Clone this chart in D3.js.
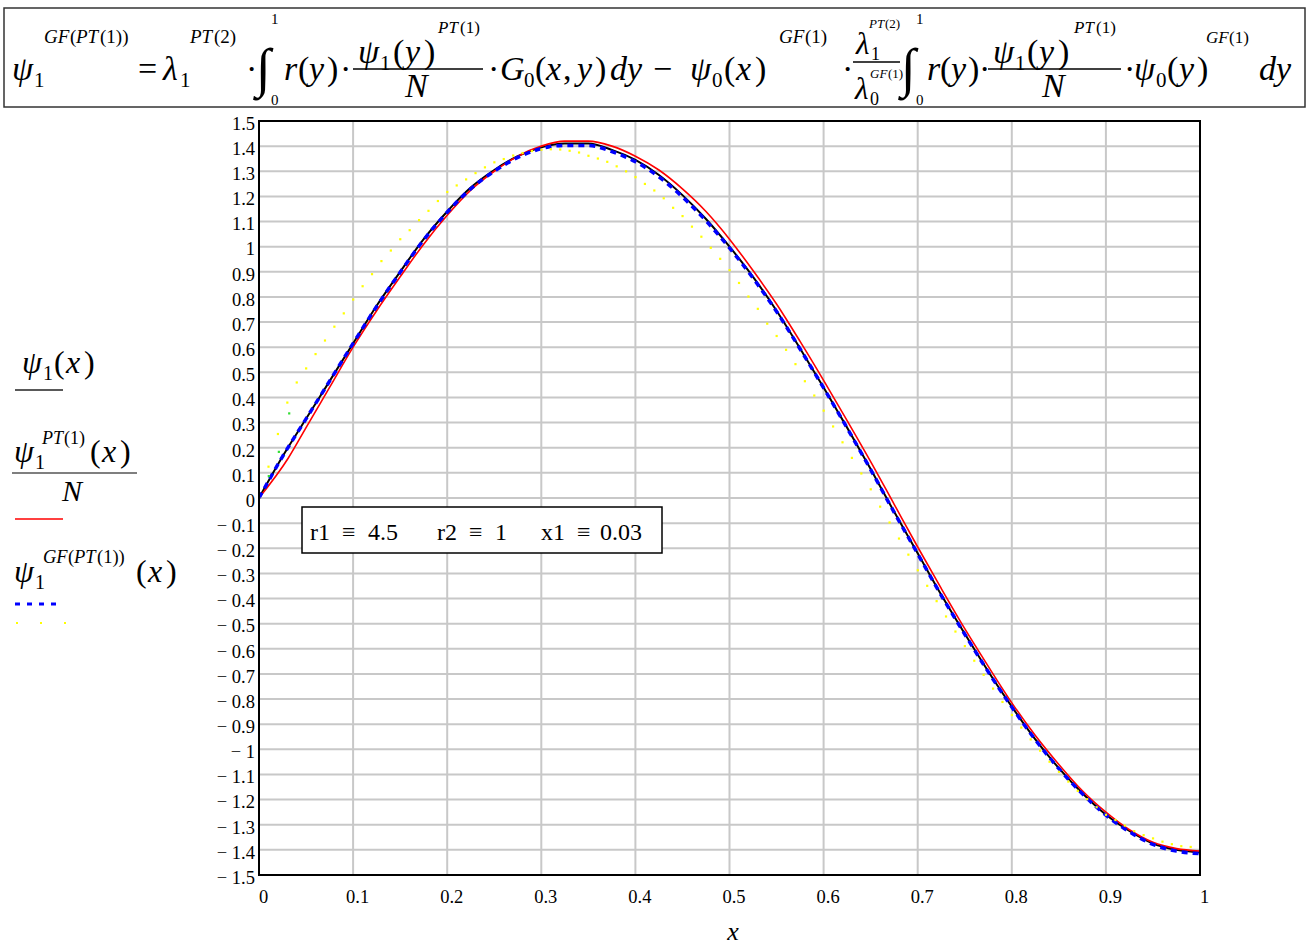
<!DOCTYPE html>
<html><head><meta charset="utf-8">
<script src="https://cdnjs.cloudflare.com/ajax/libs/d3/7.8.5/d3.min.js"></script>
<style>body{margin:0;background:#fff}svg{display:block}text{font-family:"Liberation Serif",serif}</style>
</head><body>
<script>
// ---------- data ----------
const xTicks = [0,0.1,0.2,0.3,0.4,0.5,0.6,0.7,0.8,0.9,1];
const yTicks = [1.5,1.4,1.3,1.2,1.1,1,0.9,0.8,0.7,0.6,0.5,0.4,0.3,0.2,0.1,0,-0.1,-0.2,-0.3,-0.4,-0.5,-0.6,-0.7,-0.8,-0.9,-1,-1.1,-1.2,-1.3,-1.4,-1.5];
const xLine = [0,0.025,0.05,0.075,0.1,0.125,0.15,0.175,0.2,0.225,0.25,0.275,0.3,0.325,0.35,0.375,0.4,0.425,0.45,0.475,0.5,0.525,0.55,0.575,0.6,0.625,0.65,0.675,0.7,0.725,0.75,0.775,0.8,0.825,0.85,0.875,0.9,0.925,0.95,0.975,1];
const psi1 = [0,0.165,0.315,0.465,0.615,0.765,0.90,1.03,1.14,1.235,1.305,1.36,1.395,1.41,1.41,1.385,1.345,1.285,1.205,1.11,1.0,0.88,0.745,0.595,0.44,0.28,0.115,-0.055,-0.22,-0.385,-0.54,-0.69,-0.83,-0.96,-1.075,-1.175,-1.26,-1.325,-1.375,-1.40,-1.41];
const psiGF = [0,0.165,0.315,0.465,0.615,0.762,0.898,1.027,1.137,1.23,1.30,1.355,1.39,1.403,1.403,1.378,1.338,1.278,1.198,1.103,0.995,0.875,0.742,0.593,0.438,0.278,0.113,-0.057,-0.222,-0.387,-0.542,-0.692,-0.832,-0.962,-1.077,-1.177,-1.262,-1.328,-1.378,-1.405,-1.415];
const xRed = [0,0.031,0.05,0.075,0.1,0.125,0.15,0.175,0.2,0.225,0.25,0.275,0.3,0.325,0.35,0.375,0.4,0.425,0.45,0.475,0.5,0.525,0.55,0.575,0.6,0.625,0.65,0.675,0.7,0.725,0.75,0.775,0.8,0.825,0.85,0.875,0.9,0.925,0.95,0.975,1];
const psiPT = [0,0.158,0.28,0.44,0.60,0.745,0.88,1.01,1.125,1.225,1.30,1.36,1.40,1.42,1.42,1.40,1.36,1.305,1.23,1.14,1.03,0.905,0.772,0.623,0.468,0.308,0.145,-0.025,-0.195,-0.36,-0.52,-0.67,-0.815,-0.945,-1.06,-1.165,-1.25,-1.32,-1.37,-1.395,-1.405];
const yellowY = [0,0.125,0.255,0.38,0.46,0.516,0.573,0.627,0.682,0.735,0.79,0.843,0.891,0.943,0.985,1.03,1.066,1.106,1.143,1.182,1.218,1.244,1.268,1.293,1.316,1.336,1.349,1.363,1.373,1.381,1.386,1.388,1.387,1.382,1.375,1.362,1.351,1.338,1.32,1.30,1.277,1.25,1.224,1.193,1.155,1.122,1.08,1.04,0.996,0.952,0.907,0.856,0.802,0.753,0.694,0.645,0.59,0.533,0.465,0.408,0.348,0.285,0.222,0.16,0.098,0.035,-0.034,-0.097,-0.161,-0.225,-0.287,-0.349,-0.41,-0.471,-0.531,-0.589,-0.647,-0.703,-0.758,-0.811,-0.863,-0.913,-0.96,-1.005,-1.049,-1.089,-1.128,-1.165,-1.198,-1.23,-1.26,-1.281,-1.303,-1.325,-1.341,-1.354,-1.367,-1.377,-1.385,-1.388,-1.394];
const yellowX = yellowY.map((d,i)=>i/100);
const greenX = [0.0103,0.021,0.032];
const greenY = [0.0875,0.184,0.337];
const paramNames = ["r1","r2","x1"];
const paramValues = ["4.5","1","0.03"];

// ---------- layout ----------
const W=1311,H=945;
const svg=d3.select("body").append("svg").attr("width",W).attr("height",H);
const FF='"Liberation Serif", serif';
const x=d3.scaleLinear().domain([0,1]).range([259,1200]);
const y=d3.scaleLinear().domain([-1.5,1.5]).range([875,121]);

// grid
const g=svg.append("g");
g.selectAll("line.gx").data(xTicks.slice(1,-1)).join("line")
 .attr("x1",d=>x(d)).attr("x2",d=>x(d)).attr("y1",121).attr("y2",875)
 .attr("stroke","#c8c8c8").attr("stroke-width",2);
g.selectAll("line.gy").data(yTicks.slice(1,-1)).join("line")
 .attr("x1",259).attr("x2",1200).attr("y1",d=>y(d)).attr("y2",d=>y(d))
 .attr("stroke","#c8c8c8").attr("stroke-width",2);

// axes (labels via d3 axis)
const fmt=d=>{ if(d===0) return "0"; const s=d3.format("")(Math.abs(d)); return d<0?"\u2212 "+s:s; };
const ay=svg.append("g").attr("transform","translate(259,0)")
 .call(d3.axisLeft(y).tickValues(yTicks).tickFormat(fmt).tickSize(0).tickPadding(4));
ay.attr("font-family",null).attr("font-size",null);
ay.select(".domain").remove();
ay.selectAll("text").style("font-family",FF).style("font-size","18.5px").attr("fill","#000").attr("dy","0.45em");
const ax=svg.append("g").attr("transform","translate(0,875)")
 .call(d3.axisBottom(x).tickValues(xTicks).tickFormat(d=>d3.format("")(d)).tickSize(0).tickPadding(15));
ax.attr("font-family",null).attr("font-size",null);
ax.select(".domain").remove();
ax.selectAll("text").style("font-family",FF).style("font-size","18.5px").attr("fill","#000").attr("dx","4");

svg.append("text").attr("x",733).attr("y",940).attr("text-anchor","middle")
 .style("font-family",FF).style("font-style","italic").style("font-size","26px").text("x");

// ---------- text helper ----------
function T(gr,xx,yy,str,size,it){
  return gr.append("text").attr("x",xx).attr("y",yy).style("font-family",FF)
   .style("font-size",size+"px").style("font-style",it?"italic":"normal").style("white-space","pre").text(str);
}

// param box
const bx=svg.append("g");
bx.append("rect").attr("x",302).attr("y",507).attr("width",360).attr("height",46)
 .attr("fill","#fff").attr("stroke","#000").attr("stroke-width",1.5);
const pxs=[310,437,541];
paramNames.forEach((p,i)=>{
  T(bx,pxs[i],540,p,24,false);
  T(bx,pxs[i]+(i===2?36:32),540,"\u2261",24,false);
  T(bx,pxs[i]+(i===2?59:58),540,paramValues[i],24,false);
});

// curves
svg.append("clipPath").attr("id","c").append("rect").attr("x",259).attr("y",121).attr("width",941).attr("height",754);
const line=(xs)=>d3.line().x((d,i)=>x(xs[i])).y(d=>y(d)).curve(d3.curveMonotoneX);
const pg=svg.append("g").attr("clip-path","url(#c)");
pg.append("path").attr("d",line(xLine)(psi1)).attr("fill","none").attr("stroke","#000").attr("stroke-width",2);
pg.append("path").attr("d",line(xRed)(psiPT)).attr("fill","none").attr("stroke","#ff0000").attr("stroke-width",1.6);
pg.append("path").attr("d",line(xLine)(psiGF)).attr("fill","none").attr("stroke","#0000ff").attr("stroke-width",3.5).attr("stroke-dasharray","6,5");
pg.selectAll("rect.yd").data(yellowY).join("rect").attr("x",(d,i)=>x(yellowX[i])-1).attr("y",d=>y(d)-1)
 .attr("width",2.2).attr("height",2.2).attr("fill","#ffff00");
pg.selectAll("rect.gd").data(greenY).join("rect").attr("x",(d,i)=>x(greenX[i])-1).attr("y",d=>y(d)-1)
 .attr("width",2.2).attr("height",2.2).attr("fill","#33dd33");

// frame
svg.append("rect").attr("x",259).attr("y",121).attr("width",941).attr("height",754)
 .attr("fill","none").attr("stroke","#000").attr("stroke-width",2);

// left legend
const L=svg.append("g");
T(L,22,373,"\u03c8",32,true); T(L,43,380,"1",20,false); T(L,54,373,"(",32,false); T(L,66,373,"x",32,true); T(L,84,373,")",32,false);
L.append("line").attr("x1",15).attr("x2",63).attr("y1",390).attr("y2",390).attr("stroke","#222").attr("stroke-width",1.5);
T(L,14,462,"\u03c8",32,true); T(L,35,469,"1",20,false); T(L,42,444,"PT",18,true); T(L,64,444,"(1)",18,false);
T(L,90,462,"(",32,false); T(L,102,462,"x",32,true); T(L,120,462,")",32,false);
L.append("line").attr("x1",12).attr("x2",137).attr("y1",473).attr("y2",473).attr("stroke","#000").attr("stroke-width",1.2);
T(L,62,501,"N",30,true);
L.append("line").attr("x1",15).attr("x2",63).attr("y1",519).attr("y2",519).attr("stroke","#ff0000").attr("stroke-width",1.5);
T(L,14,582,"\u03c8",32,true); T(L,35,589,"1",20,false); T(L,43,563,"GF",18.5,true); T(L,68,563,"(",18.5,false); T(L,74,563,"PT",18.5,true); T(L,97,563,"(1))",18.5,false);
T(L,136,582,"(",32,false); T(L,148,582,"x",32,true); T(L,166,582,")",32,false);
L.append("line").attr("x1",15).attr("x2",62).attr("y1",604).attr("y2",604).attr("stroke","#0000ff").attr("stroke-width",3).attr("stroke-dasharray","5,7");
[16,40,64].forEach(v=>L.append("rect").attr("x",v).attr("y",622).attr("width",2).attr("height",2).attr("fill","#ffff00"));

// ---------- top formula ----------
const F=svg.append("g");
F.append("rect").attr("x",4).attr("y",8).attr("width",1301).attr("height",99).attr("fill","#fff").attr("stroke","#333").attr("stroke-width",1.5);
const B=80, S=34, s=19, sb=21, SB=B+7, SP=43;
function frac(x1,x2,yy){F.append("line").attr("x1",x1).attr("x2",x2).attr("y1",yy).attr("y2",yy).attr("stroke","#000").attr("stroke-width",1.3);}
function integ(xx){T(F,xx,86,"\u222b",54,false); T(F,xx+15,24,"1",15,false); T(F,xx+15,105,"0",15,false);}
// psi1^{GF(PT(1))} =
T(F,12,B,"\u03c8",S,true); T(F,34,SB,"1",sb,false);
T(F,44,SP,"GF",s,true); T(F,70,SP,"(",s,false); T(F,76,SP,"PT",s,true); T(F,100,SP,"(1))",s,false);
T(F,138,B,"=",S,false);
// lambda1^{PT(2)} ·
T(F,163,B,"\u03bb",S,true); T(F,180,SB,"1",sb,false); T(F,190,SP,"PT",s,true); T(F,214,SP,"(2)",s,false);
T(F,246,B,"\u00b7",S,false);
integ(256);
T(F,284,B,"r",S,true); T(F,298,B,"(",S,false); T(F,309,B,"y",S,true); T(F,327,B,")",S,false); T(F,340,B,"\u00b7",S,false);
// fraction psi1(y)^{PT(1)} / N
T(F,358,63,"\u03c8",S,true); T(F,380,70,"1",sb,false); T(F,393,63,"(",S,false); T(F,405,63,"y",S,true); T(F,424,63,")",S,false);
T(F,438,33,"PT",17,true); T(F,460,33,"(1)",17,false);
frac(353,483,69);
T(F,405,97,"N",S,true);
// · G0(x, y)dy −
T(F,488,B,"\u00b7",S,false); T(F,500,B,"G",S,true); T(F,524,SB,"0",sb,false);
T(F,535,B,"(",S,false); T(F,546,B,"x",S,true); T(F,563,B,",",S,false); T(F,577,B,"y",S,true); T(F,595,B,")",S,false);
T(F,610,B,"dy",S,true); T(F,653,B,"\u2212",S,false);
// psi0(x)^{GF(1)} ·
T(F,690,B,"\u03c8",S,true); T(F,712,SB,"0",sb,false); T(F,724,B,"(",S,false); T(F,736,B,"x",S,true); T(F,755,B,")",S,false);
T(F,779,SP,"GF",s,true); T(F,805,SP,"(1)",s,false);
T(F,842,B,"\u00b7",S,false);
// fraction lambda1^{PT(2)} / lambda0^{GF(1)}
T(F,856,54,"\u03bb",31,true); T(F,871,60,"1",18,false); T(F,869,28,"PT",13,true); T(F,885,28,"(2)",13,false);
frac(853,900,62);
T(F,855,99,"\u03bb",31,true); T(F,870,105,"0",18,false); T(F,870,78,"GF",13,true); T(F,888,78,"(1)",13,false);
integ(901);
T(F,927,B,"r",S,true); T(F,940,B,"(",S,false); T(F,951,B,"y",S,true); T(F,968,B,")",S,false); T(F,979,B,"\u00b7",S,false);
// fraction psi1(y)^{PT(1)} / N
T(F,993,63,"\u03c8",S,true); T(F,1015,70,"1",sb,false); T(F,1027,63,"(",S,false); T(F,1039,63,"y",S,true); T(F,1058,63,")",S,false);
T(F,1074,33,"PT",17,true); T(F,1096,33,"(1)",17,false);
frac(988,1121,69);
T(F,1042,97,"N",S,true);
// · psi0(y)^{GF(1)} dy
T(F,1124,B,"\u00b7",S,false); T(F,1134,B,"\u03c8",S,true); T(F,1156,SB,"0",sb,false);
T(F,1167,B,"(",S,false); T(F,1179,B,"y",S,true); T(F,1197,B,")",S,false);
T(F,1206,SP,"GF",17,true); T(F,1229,SP,"(1)",17,false);
T(F,1259,B,"dy",S,true);
</script>
</body></html>
